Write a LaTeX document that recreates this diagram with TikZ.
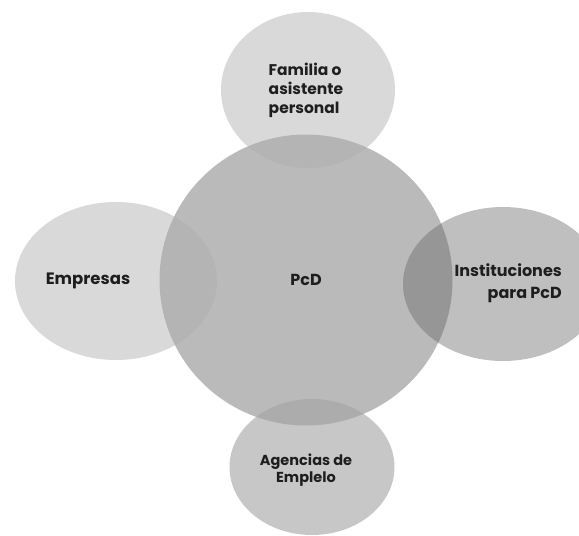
\documentclass[tikz,border=0pt]{standalone}
\usepackage{fontspec}
\setmainfont{Poppins}
\usetikzlibrary{shapes.geometric}
\definecolor{lightdisk}{HTML}{D9D9D9}
\definecolor{hubdisk}{HTML}{B0B0B0}
\definecolor{rightdisk}{HTML}{666666}
\definecolor{lowdisk}{HTML}{A4A4A4}
\definecolor{labeltext}{HTML}{1E1E1E}
\begin{document}
\begin{tikzpicture}[x=1pt,y=-1pt,
  disk/.style={ellipse,inner sep=0pt,draw=none},
  lbl/.style={text=labeltext,font=\bfseries,inner sep=0pt}]
\useasboundingbox (0,0) rectangle (579,536);
% outer disks drawn first, the hub and the others overlap them
\node[disk,fill=lightdisk,minimum width=174pt,minimum height=156pt] (fam) at (308,90) {};
\node[disk,fill=lightdisk,minimum width=202pt,minimum height=158pt] (emp) at (116,281) {};
\node[disk,fill=hubdisk,fill opacity=0.88,minimum width=293pt,minimum height=291pt] (pcd) at (306,280) {};
\node[disk,fill=rightdisk,fill opacity=0.42,minimum width=200pt,minimum height=154pt] (inst) at (503,284) {};
\node[disk,fill=lowdisk,fill opacity=0.61,minimum width=165pt,minimum height=136pt] (age) at (312,467) {};
% labels
\node[lbl,font=\bfseries\fontsize{15.5}{19}\selectfont,align=left] (famt) at (306,90) {Familia o\\asistente\\personal};
\node[lbl,font=\bfseries\fontsize{16.5}{20}\selectfont] (empt) at (88,281) {Empresas};
\node[lbl,font=\bfseries\fontsize{16}{20}\selectfont] (pcdt) at (306,280) {PcD};
\node[lbl,font=\bfseries\fontsize{16}{22}\selectfont,align=right,anchor=east] (instt) at (562,283) {Instituciones\\para PcD};
\node[lbl,font=\bfseries\fontsize{14.5}{17}\selectfont,align=center] (aget) at (306,470) {Agencias de\\Emplelo};
\end{tikzpicture}
\end{document}
